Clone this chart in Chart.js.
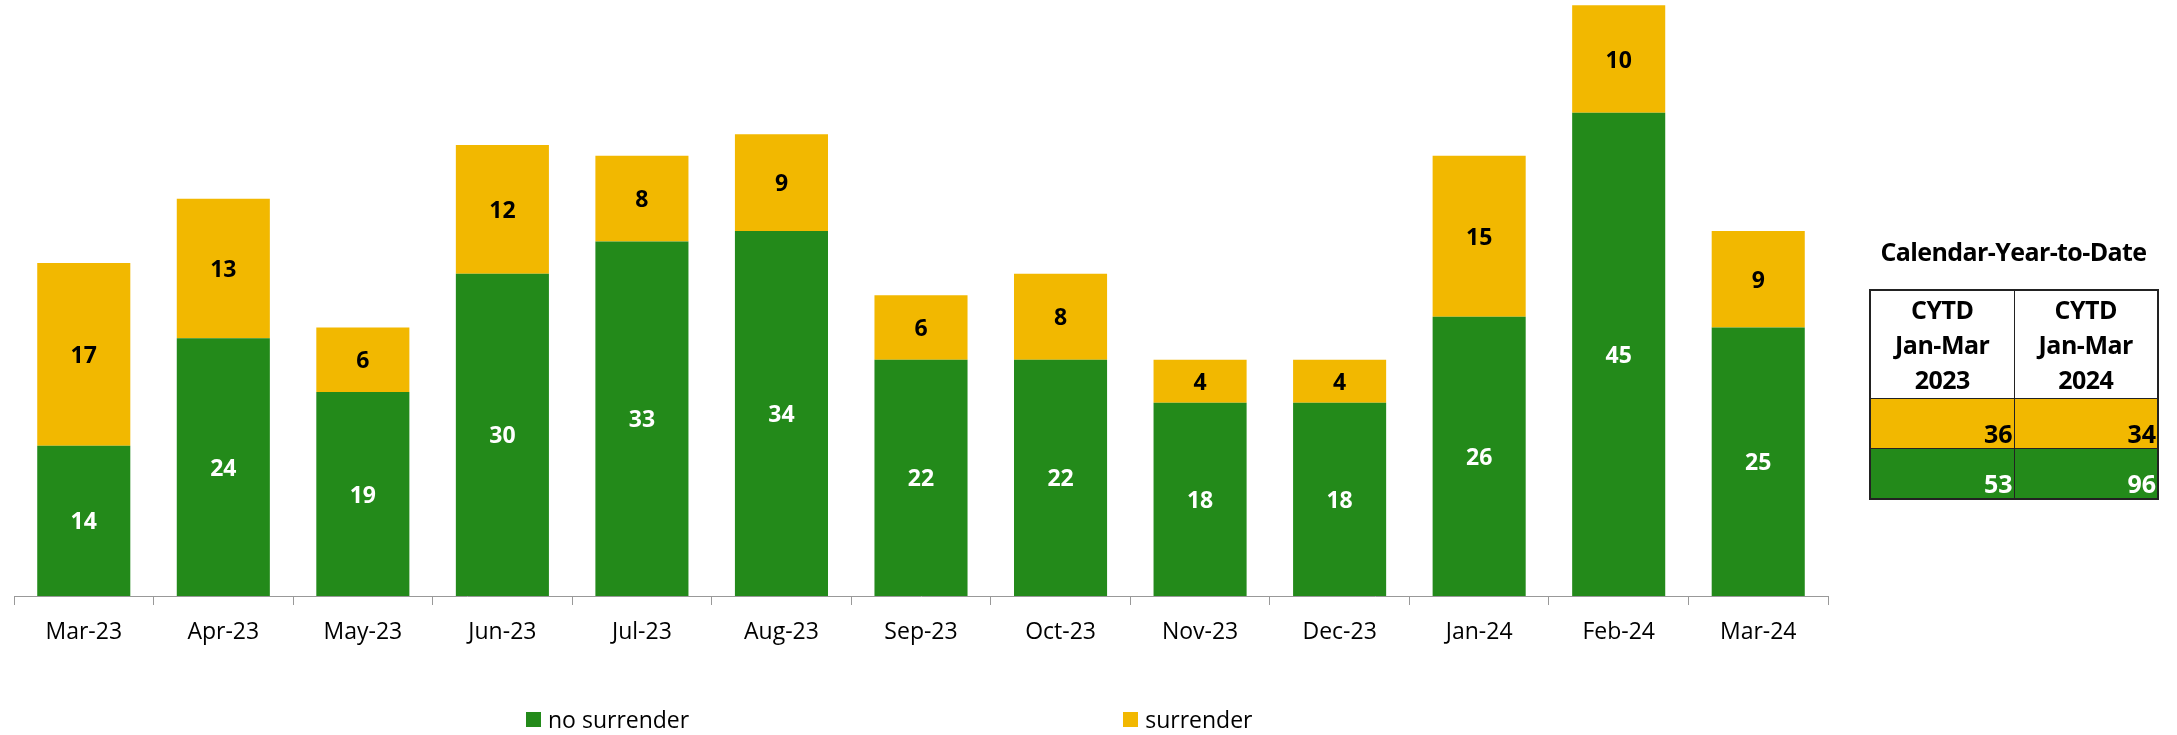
<!DOCTYPE html>
<html>
<head>
<meta charset="utf-8">
<title>Surrender by month</title>
<script src="https://cdn.jsdelivr.net/npm/chart.js@4.4.0/dist/chart.umd.min.js"></script>
<style>
  body { margin: 0; background: #fff; font-family: 'Open Sans', sans-serif; }
  #wrap { position: relative; width: 2177px; height: 735px; overflow: hidden; }
  #chart-box { position: absolute; left: 0; top: 0; width: 2177px; height: 735px; }
  #legend { position: absolute; left: 526px; top: 703px; display: flex; gap: 434px; font-size: 23px; color: #000; }
  #legend .item { display: flex; align-items: center; }
  #legend .swatch { width: 15px; height: 15px; margin-right: 7px; }
  #cytd-title { position: absolute; left: 1859px; width: 309px; top: 234px; text-align: center; font-weight: bold; font-size: 25px; letter-spacing: -0.6px; }
  #cytd { position: absolute; left: 1869px; top: 289px; width: 290px; border-collapse: collapse; border: 2px solid #222; font-weight: bold; }
  #cytd th { height: 105px; border: 1px solid #222; font-size: 25px; line-height: 35px; font-weight: bold; letter-spacing: -0.5px; }
  #cytd td { height: 49px; border: 1px solid #222; font-size: 25px; text-align: right; vertical-align: bottom; padding: 0 1px 0 0; line-height: 30px; }
</style>
</head>
<body>
<div id="wrap">
  <div id="chart-box"><canvas id="surrenderChart"></canvas></div>
  <div id="legend"></div>
  <div id="cytd-title">Calendar-Year-to-Date</div>
  <table id="cytd"></table>
</div>
<script>
  // monthly counts
  const months = ['Mar-23', 'Apr-23', 'May-23', 'Jun-23', 'Jul-23', 'Aug-23', 'Sep-23',
                  'Oct-23', 'Nov-23', 'Dec-23', 'Jan-24', 'Feb-24', 'Mar-24'];
  const noSurrender = [14, 24, 19, 30, 33, 34, 22, 22, 18, 18, 26, 45, 25];
  const surrender = [17, 13, 6, 12, 8, 9, 6, 8, 4, 4, 15, 10, 9];

  // calendar-year-to-date table
  const cytdHeaders = [['CYTD', 'Jan-Mar', '2023'], ['CYTD', 'Jan-Mar', '2024']];
  const cytdSurrender = [36, 34];
  const cytdNoSurrender = [53, 96];

  const green = '#238a1a';
  const yellow = '#f2b800';

  // writes the value in the middle of each bar segment
  const segmentLabels = {
    id: 'segmentLabels',
    afterDatasetsDraw(chart) {
      const ctx = chart.ctx;
      ctx.save();
      ctx.font = 'bold 23px "Open Sans"';
      ctx.textAlign = 'center';
      ctx.textBaseline = 'middle';
      chart.data.datasets.forEach((ds, i) => {
        const meta = chart.getDatasetMeta(i);
        ctx.fillStyle = ds.labelColor;
        meta.data.forEach((bar, j) => {
          const p = bar.getProps(['x', 'y', 'base'], true);
          ctx.fillText(String(ds.data[j]), p.x, (p.y + p.base) / 2 + 2);
        });
      });
      ctx.restore();
    }
  };

  const ctx = document.getElementById('surrenderChart').getContext('2d');
  const surrenderChart = new Chart(ctx, {
    type: 'bar',
    data: {
      labels: months,
      datasets: [
        { label: 'no surrender', data: noSurrender, backgroundColor: green, labelColor: '#fff' },
        { label: 'surrender', data: surrender, backgroundColor: yellow, labelColor: '#000' }
      ]
    },
    options: {
      responsive: true,
      maintainAspectRatio: false,
      animation: false,
      layout: { padding: { left: 14, right: 349, top: 0, bottom: 0 } },
      datasets: { bar: { categoryPercentage: 1, barPercentage: 0.667 } },
      plugins: { legend: { display: false }, tooltip: { enabled: false } },
      scales: {
        x: {
          stacked: true,
          afterFit(scale) { scale.height = 139; }, // room for labels + legend below
          grid: { drawOnChartArea: false, drawTicks: true, tickLength: 9, color: '#999', offset: true },
          border: { display: true, color: '#999', width: 1 },
          ticks: { color: '#000', font: { family: 'Open Sans', size: 23 }, padding: 14, maxRotation: 0 }
        },
        y: {
          stacked: true,
          display: false,
          min: 0,
          max: 55.5
        }
      }
    },
    plugins: [segmentLabels]
  });

  // html legend from the datasets
  const legend = document.getElementById('legend');
  surrenderChart.data.datasets.forEach(ds => {
    const item = document.createElement('div');
    item.className = 'item';
    item.innerHTML = '<span class="swatch" style="background:' + ds.backgroundColor + '"></span>' + ds.label;
    legend.appendChild(item);
  });

  // cytd table
  const table = document.getElementById('cytd');
  let html = '<tr>' + cytdHeaders.map(h => '<th>' + h.join('<br>') + '</th>').join('') + '</tr>';
  html += '<tr>' + cytdSurrender.map(v => '<td style="background:' + yellow + ';color:#000">' + v + '</td>').join('') + '</tr>';
  html += '<tr>' + cytdNoSurrender.map(v => '<td style="background:' + green + ';color:#fff">' + v + '</td>').join('') + '</tr>';
  table.innerHTML = html;
</script>
</body>
</html>
